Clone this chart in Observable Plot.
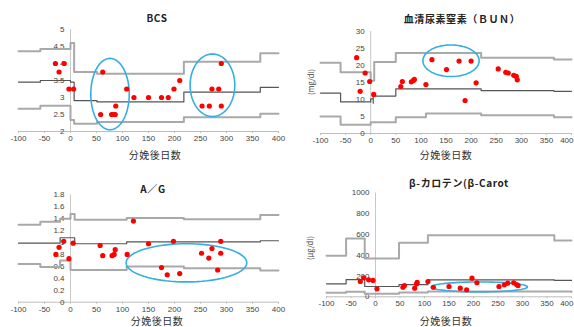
<!DOCTYPE html>
<html><head><meta charset="utf-8">
<script src="https://cdn.jsdelivr.net/npm/d3@7"></script>
<script src="https://cdn.jsdelivr.net/npm/@observablehq/plot@0.6"></script>
<style>
html,body{margin:0;padding:0;background:#fff;}
#chart{position:relative;width:574px;height:327px;overflow:hidden;background:#fff;font-family:"Noto Sans CJK JP","Liberation Sans",sans-serif;color:#333;}
.panel{position:absolute;}
.panel svg{background:transparent;}
.lbl{position:absolute;transform:translate(-50%,-50%);white-space:nowrap;line-height:1;}
.title{font-size:10px;font-weight:bold;letter-spacing:0.6px;color:#222;}
.xlabel{font-size:10px;color:#333;letter-spacing:0.5px;}
.ylabel{font-size:7.5px;color:#444;transform:translate(-50%,-50%) rotate(-90deg);}
</style></head>
<body><div id="chart"></div>
<script>
// ---------- shared ----------
const xTicks = [-100,-50,0,50,100,150,200,250,300,350,400];
const xLabel = "分娩後日数";

// ---------- BCS ----------
const bcsTitle = "BCS";
const bcsYTicks = [2,2.5,3,3.5,4,4.5,5];
const bcsDays   = [-29,-22,-12,-3,6,58,62,79,83,86,87,108,122,150,175,188,199,210,253,267,272,285,290,290];
const bcsValues = [4.0,3.75,4.0,3.25,3.25,2.5,3.75,2.5,2.5,2.5,2.75,3.25,3.0,3.0,3.0,3.0,3.25,3.5,2.75,2.75,3.25,3.25,4.0,2.75];
const bcsStepDays = [-100,-58,0,7,51,218,365,400];
const bcsUpper = [4.36,4.43,4.60,3.75,3.70,4.05,4.30,4.30];
const bcsMean  = [3.45,3.50,3.45,2.91,2.87,3.16,3.30,3.30];
const bcsLower = [2.67,2.76,2.34,2.23,2.28,2.42,2.52,2.52];
const bcsRings = [{day:76,value:3.10,rDay:37,rValue:1.05},{day:273,value:3.36,rDay:43,rValue:0.92}];

// ---------- BUN ----------
const bunTitle = "血清尿素窒素（ＢＵＮ）";
const bunUnit = "(mg/dl)";
const bunYTicks = [0,5,10,15,20,25,30];
const bunDays   = [-28,-21,-11,-2,6,60,63,81,85,87,110,122,151,176,188,200,210,254,269,274,285,290,292];
const bunValues = [22.3,12.4,17.8,15.3,11.5,13.8,15.3,15.2,15.6,15.9,14.4,21.7,18.8,21.3,9.7,21.3,14.9,19.0,18.0,17.8,17.1,16.8,15.8];
const bunStepDays = [-100,-60,0,7,50,110,220,365,400];
const bunUpper = [20.8,18.0,15.5,21.0,23.7,23.7,22.3,21.8,21.8];
const bunLower = [5.0,2.6,3.3,3.3,4.8,5.9,5.4,4.8,4.8];
const bunMeanDays = [-100,-60,0,5,5,50,220,365,400];
const bunMean     = [11.9,9.3,10.2,8.9,11.0,13.1,12.6,12.4,12.4];
const bunRings = [{day:160,value:21.4,rDay:56,rValue:4.65}];

// ---------- A/G ----------
const agTitle = "A／G";
const agYTicks = [0,0.2,0.4,0.6,0.8,1,1.2,1.4,1.6,1.8];
const agDays   = [-28,-22,-13,-3,5,57,62,80,84,86,109,121,150,175,186,198,210,252,266,272,283,289,289];
const agValues = [0.80,0.92,1.02,0.73,0.99,0.95,0.78,0.78,0.80,0.88,0.80,1.36,0.98,0.58,0.46,1.02,0.48,0.82,0.74,0.90,0.54,1.02,0.82];
const agStepDays = [-100,-58,-20,0,8,108,218,365,400];
const agUpper = [1.30,1.35,1.40,1.48,1.38,1.41,1.39,1.46,1.46];
const agMean  = [0.99,0.99,1.08,1.08,0.98,1.01,1.01,1.03,1.03];
const agLower = [0.64,0.59,0.70,0.54,0.54,0.60,0.57,0.53,0.53];
const agRings = [{day:223,value:0.66,rDay:116,rValue:0.32}];

// ---------- beta-carotene ----------
const bcTitle = "β-カロテン(β-Carot";
const bcUnit = "(μg/dl)";
const bcYTicks = [0,200,400,600,800,1000];
const bcDays   = [-31,-24,-14,-5,3,56,59,80,84,85,107,118,150,173,186,197,207,252,263,270,282,288,291];
const bcValues = [147,183,163,157,77,92,108,83,125,140,147,92,99,83,67,179,135,99,115,131,135,118,108];
const bcStepDays = [-100,-60,-22,48,107,365,400];
const bcUpper = [395,560,368,520,593,541,541];
const bcMean  = [125,166,99,118,163,157,157];
const bcLower = [38,48,30,42,50,50,45];
const bcRings = [{day:212,value:95,rDay:98,rValue:48}];

// ---------- drawing ----------
const chart = document.getElementById("chart");
const toRows = (days, vals) => days.map((d, i) => ({day: d, value: vals[i]}));
function ringPath(r) {
  const pts = [];
  for (let k = 0; k < 72; k++) {
    const t = (k / 72) * 2 * Math.PI;
    pts.push({day: r.day + r.rDay * Math.cos(t), value: r.value + r.rValue * Math.sin(t)});
  }
  return pts;
}
function label(cls, text, x, y) {
  const d = document.createElement("div");
  d.className = "lbl " + cls;
  d.textContent = text;
  d.style.left = x + "px"; d.style.top = y + "px";
  chart.appendChild(d);
}

function panel(p) {
  const lastTick = xTicks[xTicks.length - 1];
  const last = p.tightRight ? [lastTick] : [];
  const tickFont = {fontSize: 8, fill: "#444", fontFamily: "Liberation Sans, sans-serif"};
  const marks = [
    Plot.ruleY([p.yTicks[0]], {stroke: "#bdbdbd", strokeWidth: 1}),
    Plot.ruleX([0], {stroke: "#c8c8c8", strokeWidth: 1}),
    Plot.axisX({ticks: xTicks, tickSize: 2, tickPadding: 2, label: null, stroke: "#bdbdbd",
      tickFormat: d => (p.tightRight && d === lastTick ? "" : String(d)), ...tickFont}),
    Plot.text(last, {x: d => d, y: () => p.yTicks[0], text: d => String(d), textAnchor: "end", lineAnchor: "top", dx: 2, dy: 4, ...tickFont}),
    Plot.text(p.yTicks, {x: 0, y: d => d, text: p.fmt, textAnchor: "end", dx: -6, ...tickFont}),
    Plot.line(toRows(p.stepDays, p.upper), {x: "day", y: "value", curve: "step-after", stroke: "#a9a9a9", strokeWidth: 2}),
    Plot.line(toRows(p.stepDays, p.lower), {x: "day", y: "value", curve: "step-after", stroke: "#a9a9a9", strokeWidth: 2}),
    Plot.line(toRows(p.meanDays || p.stepDays, p.mean), {x: "day", y: "value", curve: "step-after", stroke: "#555", strokeWidth: 1.2}),
    ...p.rings.map(r => Plot.line(ringPath(r), {x: "day", y: "value", curve: "linear-closed", stroke: "#35aee3", strokeWidth: 1.6, fill: "none"})),
    Plot.dot(toRows(p.days, p.values), {x: "day", y: "value", r: 2.6, fill: "#ff0000", stroke: "none"})
  ];
  const svg = Plot.plot({
    width: p.w, height: p.h,
    marginLeft: p.m[0], marginRight: p.m[1], marginTop: p.m[2], marginBottom: p.m[3],
    x: {type: "linear", domain: [-100, 400], axis: null, label: null},
    y: {type: "linear", domain: [p.yTicks[0], p.yTicks[p.yTicks.length - 1]], axis: null, label: null},
    style: {background: "transparent", overflow: "hidden"},
    marks
  });
  const wrap = document.createElement("div");
  wrap.className = "panel";
  wrap.style.left = p.left + "px"; wrap.style.top = p.top + "px";
  wrap.appendChild(svg);
  chart.appendChild(wrap);
}

panel({left: 0, top: 0, w: 287, h: 163, m: [18, 9, 29, 32], yTicks: bcsYTicks, fmt: d => String(d),
  days: bcsDays, values: bcsValues, stepDays: bcsStepDays, upper: bcsUpper, mean: bcsMean, lower: bcsLower, rings: bcsRings});
panel({left: 287, top: 0, w: 287, h: 163, m: [33, 3, 31, 30], yTicks: bunYTicks, fmt: d => String(d), tightRight: true,
  days: bunDays, values: bunValues, stepDays: bunStepDays, upper: bunUpper, meanDays: bunMeanDays, mean: bunMean, lower: bunLower, rings: bunRings});
panel({left: 0, top: 163, w: 287, h: 164, m: [18, 9, 31.3, 25.3], yTicks: agYTicks, fmt: d => String(d),
  days: agDays, values: agValues, stepDays: agStepDays, upper: agUpper, mean: agMean, lower: agLower, rings: agRings});
panel({left: 287, top: 163, w: 287, h: 164, m: [39, 3, 29.3, 30.7], yTicks: bcYTicks, fmt: d => String(d), tightRight: true,
  days: bcDays, values: bcValues, stepDays: bcStepDays, upper: bcUpper, mean: bcMean, lower: bcLower, rings: bcRings});

// titles and axis labels
label("title", bcsTitle, 157, 18);
label("title", bunTitle, 462, 19);
label("title", agTitle, 153, 189);
label("title", bcTitle, 459, 183);
label("xlabel", xLabel, 155, 155);
label("xlabel", xLabel, 446, 155);
label("xlabel", xLabel, 157, 321);
label("xlabel", xLabel, 446, 321);
label("ylabel", bunUnit, 311, 82);
label("ylabel", bcUnit, 310, 248);
</script>
</body></html>
